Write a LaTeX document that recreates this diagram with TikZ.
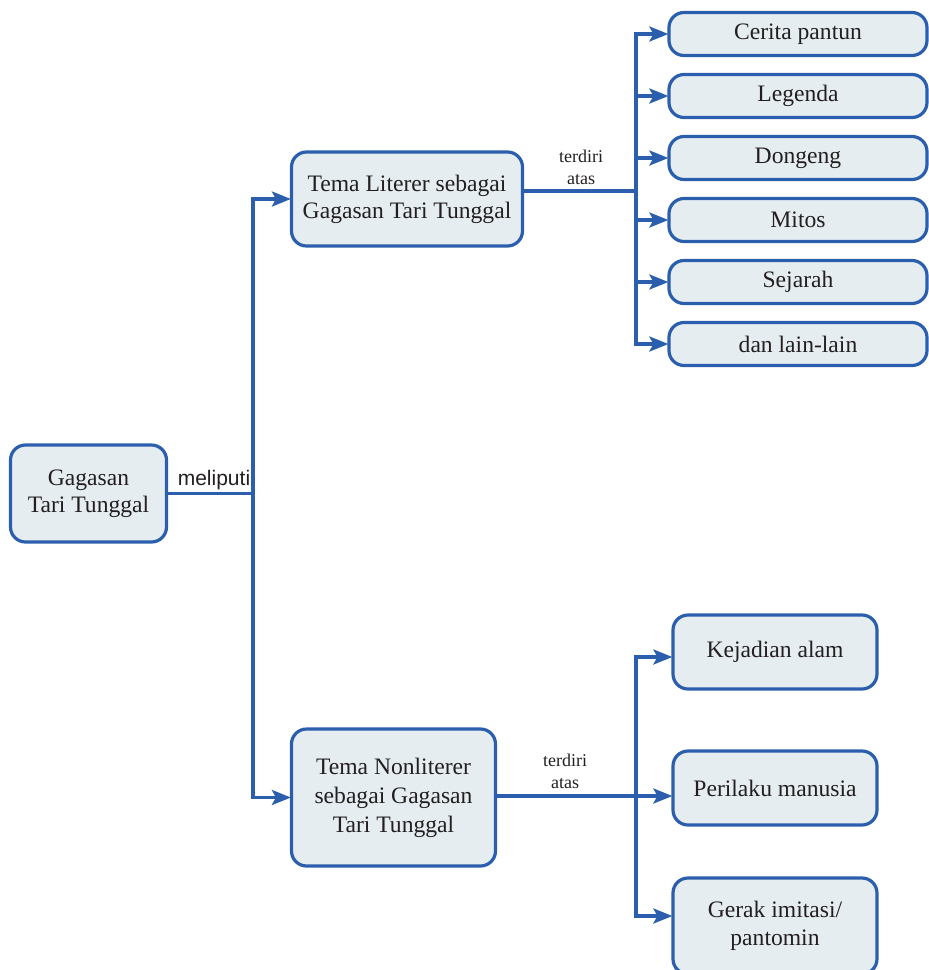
\documentclass[tikz,border=0pt]{standalone}
\usepackage{fontspec}
\setmainfont{Liberation Serif}
\newfontfamily\labelsans{Liberation Sans}
\usetikzlibrary{arrows.meta}
\definecolor{edgeblue}{HTML}{2B5FAD}
\definecolor{boxfill}{HTML}{E6EDF1}
\definecolor{ink}{HTML}{231F20}
\tikzset{
  box/.style={draw=edgeblue, fill=boxfill, line width=3.2pt, rounded corners=15pt,
    align=center, text=ink, inner sep=0pt, font=\fontsize{23.6}{27}\selectfont},
  link/.style={draw=edgeblue, line width=3.2pt},
  arr/.style={link, -{Stealth[length=19pt,width=15pt,inset=4pt]}, shorten >=-1pt},
  note/.style={text=ink, align=center, inner sep=0pt, font=\fontsize{18}{22}\selectfont},
  wide/.style={minimum width=258pt, minimum height=43pt},
  mid/.style={minimum width=204pt, minimum height=74pt},
}
\begin{document}
\begin{tikzpicture}[x=1pt,y=-1pt]
\useasboundingbox (0,0) rectangle (929,970);

% root and the two themes
\node[box, minimum width=156pt, minimum height=97pt] (root) at (88.5,493.5) {Gagasan\\Tari Tunggal};
\node[box, minimum width=231pt, minimum height=94pt] (lit) at (407,199) {Tema Literer sebagai\\Gagasan Tari Tunggal};
\node[box, minimum width=204pt, minimum height=137pt, font=\fontsize{23.6}{29}\selectfont] (non) at (393.5,797.5) {Tema Nonliterer\\sebagai Gagasan\\Tari Tunggal};

% literary themes
\node[box, wide] (c1) at (798,34) {Cerita pantun};
\node[box, wide] (c2) at (798,96) {Legenda};
\node[box, wide] (c3) at (798,158) {Dongeng};
\node[box, wide] (c4) at (798,220) {Mitos};
\node[box, wide] (c5) at (798,282) {Sejarah};
\node[box, wide] (c6) at (798,344) {dan lain-lain};

% non-literary themes
\node[box, mid] (k1) at (775,652) {Kejadian alam};
\node[box, mid] (k2) at (775,788) {Perilaku manusia};
\node[box, minimum width=204pt, minimum height=96pt, font=\fontsize{23.6}{28}\selectfont] (k3) at (775,926) {Gerak imitasi/\\pantomin};

% junctions
\coordinate (j0) at (253,493.5);
\coordinate (j1) at (636,191);
\coordinate (j2) at (636,796);

% root trunk
\draw[link] (root.east) -- (j0);
\node[text=ink, inner sep=0pt, font=\labelsans\fontsize{21}{24}\selectfont] (lbl0) at (214,480) {meliputi};
\draw[arr] (j0) |- (lit.west);
\draw[arr] (j0) |- (non.west);

% literary branch
\draw[link] (lit.east |- j1) -- (j1);
\node[note] (lbl1) at (581,167) {terdiri\\atas};
\foreach \n in {c1,c2,c3,c4,c5,c6}
  \draw[arr] (j1) |- (\n.west);

% non-literary branch
\draw[arr] (non.east |- j2) -- (k2.west |- j2);
\node[note] (lbl2) at (565,771) {terdiri\\atas};
\draw[arr] (j2) |- ([yshift=-5pt]k1.west);
\draw[arr] (j2) |- ([yshift=10pt]k3.west);
\end{tikzpicture}
\end{document}
